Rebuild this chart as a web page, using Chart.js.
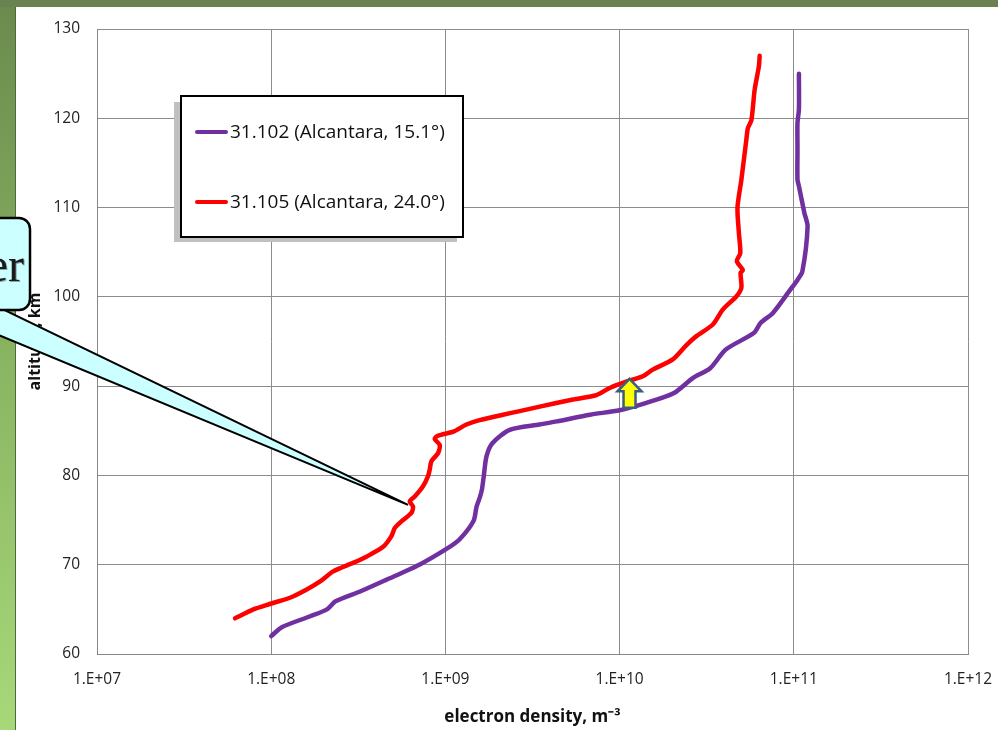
<!DOCTYPE html>
<html><head><meta charset="utf-8">
<script src="https://cdn.jsdelivr.net/npm/chart.js@4.4.1/dist/chart.umd.min.js"></script>
<style>html,body{margin:0;padding:0;background:#fff;overflow:hidden}canvas{display:block}</style>
</head><body>
<canvas id="c" width="998" height="730"></canvas>
<script>
// decade ticks of the log axis, altitude ticks
const xTicks=[1e7,1e8,1e9,1e10,1e11,1e12];
const yTicks=[60,70,80,90,100,110,120,130];
const seriesLabels=["31.102 (Alcantara, 15.1°)","31.105 (Alcantara, 24.0°)"];
const seriesColors=["#7030a0","#ff0000"];

// 31.102 profile
const density102=[1.0e8,1.15e8,1.66e8,2.09e8,2.34e8,3.24e8,4.57e8,7.08e8,1.02e9,1.2e9,1.45e9,1.51e9,1.58e9,1.62e9,1.66e9,1.72e9,1.86e9,2.34e9,3.47e9,4.37e9,6.76e9,1.0e10,1.41e10,2.04e10,2.63e10,3.31e10,4.07e10,5.89e10,6.46e10,7.59e10,9.55e10,1.05e11,1.12e11,1.2e11,1.15e11,1.07e11,1.05e11,1.05e11,1.05e11,1.07e11,1.07e11];
const altitude102=[62.0,63.0,64.2,65.0,65.9,67.0,68.3,70.0,71.8,72.8,74.9,76.5,77.6,78.4,79.9,82.1,83.6,85.1,85.7,86.05,86.8,87.3,88.1,89.2,90.9,92.0,94.1,95.95,97.1,98.2,100.8,101.9,102.85,107.9,109.4,112.4,113.1,116.5,119.5,121.0,125.0];

// 31.105 profile
const density105=[6.2e7,7.9e7,9.8e7,1.28e8,1.59e8,1.9e8,2.27e8,2.95e8,3.52e8,4.39e8,4.9e8,5.12e8,5.59e8,6.38e8,6.52e8,6.24e8,6.67e8,7.44e8,7.94e8,8.13e8,8.31e8,9.08e8,9.28e8,8.68e8,9.08e8,1.11e9,1.32e9,1.57e9,2.14e9,2.67e9,3.48e9,5.4e9,7.36e9,8.78e9,1.09e10,1.36e10,1.55e10,2.02e10,2.42e10,2.76e10,3.43e10,3.92e10,4.68e10,5.0e10,4.95e10,5.1e10,4.71e10,4.93e10,4.84e10,4.75e10,5.0e10,5.34e10,5.45e10,5.71e10,5.96e10,6.3e10,6.37e10];
const altitude105=[64.0,65.0,65.6,66.3,67.2,68.1,69.25,70.2,70.9,72.0,73.2,74.1,74.85,75.8,76.5,77.1,77.65,78.8,79.9,80.65,81.6,82.5,83.4,84.1,84.45,84.9,85.7,86.2,86.8,87.2,87.7,88.5,89.0,89.8,90.5,91.1,91.85,93.0,94.6,95.6,96.9,98.6,100.05,101.0,102.7,103.0,104.0,104.9,107.15,110.0,113.1,117.6,118.9,119.8,123.2,125.8,127.0];

// annotation anchors (data coords)
const arrowAt={x:1.14e10,y:89.2};
const calloutTip={x:6.1e8,y:76.7};

const pts=(xs,ys)=>xs.map((x,i)=>({x:x,y:ys[i]}));
const expLabel=v=>"1.E+"+String(Math.round(Math.log10(v))).padStart(2,"0");

function drawBackground(chart){
  const ctx=chart.ctx;ctx.save();
  ctx.fillStyle="#fff";ctx.fillRect(0,0,998,730);
  ctx.fillStyle="#6a8250";ctx.fillRect(0,0,998,7);
  const g=ctx.createLinearGradient(0,0,0,730);
  g.addColorStop(0,"#6a8a4e");g.addColorStop(0.5,"#8ab562");g.addColorStop(1,"#a8d87a");
  ctx.fillStyle=g;ctx.fillRect(0,7,15,723);
  ctx.fillStyle="#4f6a3a";ctx.fillRect(15,7,1,723);
  ctx.restore();
}
function drawLegend(chart){
  const ctx=chart.ctx;ctx.save();
  ctx.fillStyle="#c0c0c0";ctx.fillRect(174,102,283,140);
  ctx.fillStyle="#fff";ctx.fillRect(181,96,282,141);
  ctx.strokeStyle="#000";ctx.lineWidth=2;ctx.strokeRect(181,96,282,141);
  chart.data.datasets.forEach((d,i)=>{
    const y=132+i*70;
    ctx.strokeStyle=d.borderColor;ctx.lineWidth=4;ctx.lineCap="round";
    ctx.beginPath();ctx.moveTo(197,y);ctx.lineTo(226,y);ctx.stroke();
    ctx.fillStyle="#111";ctx.font="19px 'Open Sans'";ctx.textBaseline="middle";
    ctx.fillText(d.label,230,y+1);
  });
  ctx.restore();
}
function drawArrow(chart){
  const ctx=chart.ctx,xs=chart.scales.x,ys=chart.scales.y;
  const cx=xs.getPixelForValue(arrowAt.x),cy=ys.getPixelForValue(arrowAt.y);
  const top=cy-14.5,bot=cy+14.5,hb=top+12.5;
  ctx.save();ctx.beginPath();
  ctx.moveTo(cx,top);ctx.lineTo(cx+12,hb);ctx.lineTo(cx+6,hb);ctx.lineTo(cx+6,bot);
  ctx.lineTo(cx-6,bot);ctx.lineTo(cx-6,hb);ctx.lineTo(cx-12,hb);ctx.closePath();
  ctx.fillStyle="#ffff00";ctx.fill();ctx.strokeStyle="#3b5e7e";ctx.lineWidth=2.5;ctx.lineJoin="miter";ctx.stroke();
  ctx.restore();
}
function drawCallout(chart){
  const ctx=chart.ctx,xs=chart.scales.x,ys=chart.scales.y;
  const tx=xs.getPixelForValue(calloutTip.x),ty=ys.getPixelForValue(calloutTip.y);
  ctx.save();
  ctx.beginPath();ctx.moveTo(-4,306);ctx.lineTo(tx,ty);ctx.lineTo(-4,334);ctx.closePath();
  ctx.fillStyle="#ccffff";ctx.fill();ctx.strokeStyle="#000";ctx.lineWidth=2;ctx.lineJoin="miter";ctx.stroke();
  ctx.beginPath();ctx.roundRect(-30,218,60,92,11);
  ctx.fillStyle="#ccffff";ctx.fill();ctx.lineWidth=2.5;ctx.stroke();
  ctx.fillStyle="#1a1a1a";ctx.font="48px 'Liberation Serif'";ctx.textAlign="right";ctx.textBaseline="alphabetic";
  ctx.shadowColor="rgba(0,0,0,0.35)";ctx.shadowOffsetX=1;ctx.shadowOffsetY=1;
  ctx.fillText("er",24,281);
  ctx.restore();
}

const decor={id:"decor",beforeDraw:drawBackground,afterDraw(chart){drawLegend(chart);drawArrow(chart);drawCallout(chart);}};

new Chart(document.getElementById("c"),{
  type:"scatter",
  data:{datasets:[
    {label:seriesLabels[0],data:pts(density102,altitude102),borderColor:seriesColors[0],backgroundColor:seriesColors[0]},
    {label:seriesLabels[1],data:pts(density105,altitude105),borderColor:seriesColors[1],backgroundColor:seriesColors[1]}
  ]},
  options:{
    responsive:false,animation:false,
    layout:{padding:{left:0,top:29,right:30,bottom:0}},
    elements:{point:{radius:0,hoverRadius:0},line:{borderWidth:4.5,tension:0.25,borderCapStyle:"round",borderJoinStyle:"round"}},
    datasets:{scatter:{showLine:true}},
    plugins:{legend:{display:false},tooltip:{enabled:false}},
    scales:{
      x:{type:"logarithmic",min:1e7,max:1e12,
        afterFit(s){s.height=76;s.paddingLeft=0;s.paddingRight=0;},
        afterBuildTicks(s){s.ticks=xTicks.map(v=>({value:v}));},
        grid:{color:"#8c8c8c",lineWidth:1,drawTicks:false},
        border:{color:"#868686",width:1},
        ticks:{padding:16,maxRotation:0,autoSkip:false,color:"#222",font:{family:"'Open Sans'",size:15.5},callback:v=>expLabel(v)},
        title:{display:true,text:"electron density, m⁻³",color:"#111",font:{family:"'Open Sans'",size:17,weight:"bold"},padding:{top:0,bottom:2.8}}
      },
      y:{type:"linear",min:60,max:130,
        afterFit(s){s.width=97;s.paddingTop=0;s.paddingBottom=0;},
        afterBuildTicks(s){s.ticks=yTicks.map(v=>({value:v}));},
        grid:{color:"#8c8c8c",lineWidth:1,drawTicks:false},
        border:{color:"#868686",width:1},
        ticks:{padding:17,color:"#222",font:{family:"'Open Sans'",size:15.5}},
        title:{display:true,text:"altitude, km",color:"#111",font:{family:"'Open Sans'",size:16,weight:"bold"},padding:{top:25.4,bottom:0}}
      }
    }
  },
  plugins:[decor]
});
</script>
</body></html>
